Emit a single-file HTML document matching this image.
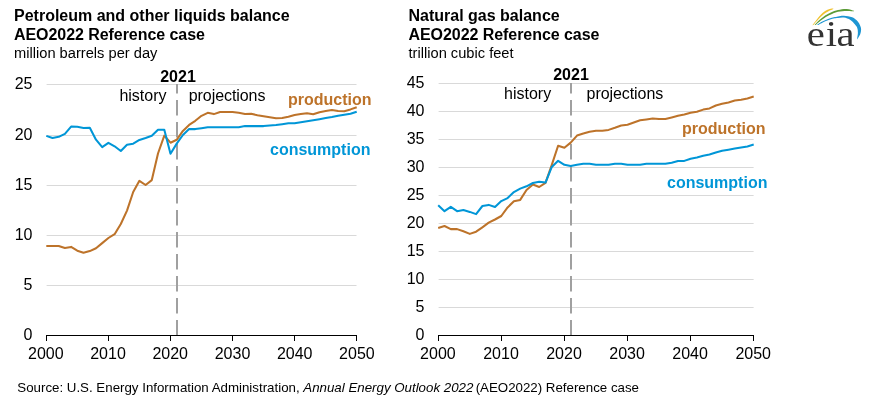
<!DOCTYPE html>
<html lang="en"><head><meta charset="utf-8"><title>EIA AEO2022 balance charts</title>
<style>html,body{margin:0;padding:0;background:#fff}body{width:870px;height:403px;overflow:hidden}svg{display:block}text{font-family:"Liberation Sans",Arial,sans-serif;fill:#000}.b{font-weight:bold}.t{font-size:16px}.ax{font-size:16px}</style></head><body>
<svg width="870" height="403" viewBox="0 0 870 403">
<rect width="870" height="403" fill="#fff"/>
<text class="b" x="14" y="21" font-size="16">Petroleum and other liquids balance</text>
<text class="b" x="14" y="40" font-size="16" textLength="190.9">AEO2022 Reference case</text>
<text x="14" y="58" font-size="14.67">million barrels per day</text>
<text class="b" x="408.5" y="21" font-size="16">Natural gas balance</text>
<text class="b" x="408.5" y="40" font-size="16" textLength="190.9">AEO2022 Reference case</text>
<text x="408.5" y="58" font-size="14.67">trillion cubic feet</text>
<line x1="46.6" x2="356.5" y1="84.5" y2="84.5" stroke="#d9d9d9" stroke-width="1"/>
<text class="ax" x="32.5" y="89.0" text-anchor="end">25</text>
<line x1="46.6" x2="356.5" y1="135.5" y2="135.5" stroke="#d9d9d9" stroke-width="1"/>
<text class="ax" x="32.5" y="140.0" text-anchor="end">20</text>
<line x1="46.6" x2="356.5" y1="185.5" y2="185.5" stroke="#d9d9d9" stroke-width="1"/>
<text class="ax" x="32.5" y="190.0" text-anchor="end">15</text>
<line x1="46.6" x2="356.5" y1="235.5" y2="235.5" stroke="#d9d9d9" stroke-width="1"/>
<text class="ax" x="32.5" y="240.0" text-anchor="end">10</text>
<line x1="46.6" x2="356.5" y1="285.5" y2="285.5" stroke="#d9d9d9" stroke-width="1"/>
<text class="ax" x="32.5" y="290.0" text-anchor="end">5</text>
<text class="ax" x="32.5" y="340" text-anchor="end">0</text>
<line x1="438.6" x2="753.6" y1="83.5" y2="83.5" stroke="#d9d9d9" stroke-width="1"/>
<text class="ax" x="424.5" y="88.0" text-anchor="end">45</text>
<line x1="438.6" x2="753.6" y1="111.5" y2="111.5" stroke="#d9d9d9" stroke-width="1"/>
<text class="ax" x="424.5" y="116.0" text-anchor="end">40</text>
<line x1="438.6" x2="753.6" y1="139.5" y2="139.5" stroke="#d9d9d9" stroke-width="1"/>
<text class="ax" x="424.5" y="144.0" text-anchor="end">35</text>
<line x1="438.6" x2="753.6" y1="167.5" y2="167.5" stroke="#d9d9d9" stroke-width="1"/>
<text class="ax" x="424.5" y="172.0" text-anchor="end">30</text>
<line x1="438.6" x2="753.6" y1="195.5" y2="195.5" stroke="#d9d9d9" stroke-width="1"/>
<text class="ax" x="424.5" y="200.0" text-anchor="end">25</text>
<line x1="438.6" x2="753.6" y1="223.5" y2="223.5" stroke="#d9d9d9" stroke-width="1"/>
<text class="ax" x="424.5" y="228.0" text-anchor="end">20</text>
<line x1="438.6" x2="753.6" y1="251.5" y2="251.5" stroke="#d9d9d9" stroke-width="1"/>
<text class="ax" x="424.5" y="256.0" text-anchor="end">15</text>
<line x1="438.6" x2="753.6" y1="279.5" y2="279.5" stroke="#d9d9d9" stroke-width="1"/>
<text class="ax" x="424.5" y="284.0" text-anchor="end">10</text>
<line x1="438.6" x2="753.6" y1="307.5" y2="307.5" stroke="#d9d9d9" stroke-width="1"/>
<text class="ax" x="424.5" y="312.0" text-anchor="end">5</text>
<text class="ax" x="424.5" y="340" text-anchor="end">0</text>
<line x1="177" x2="177" y1="335.5" y2="84" stroke="#a0a0a0" stroke-width="2" stroke-dasharray="15.4 6.6"/>
<line x1="571" x2="571" y1="335.5" y2="83" stroke="#a0a0a0" stroke-width="2" stroke-dasharray="15.4 6.6"/>
<polyline fill="none" stroke="#bd732a" stroke-width="2.05" stroke-linejoin="round" stroke-linecap="butt" points="46.3,245.9 52.5,245.9 58.7,245.9 64.9,247.9 71.1,246.9 77.3,250.7 83.5,252.7 89.8,251.1 96.0,248.3 102.2,243.1 108.4,238.0 114.6,234.2 120.8,224.0 127.0,210.6 133.2,192.0 139.4,180.8 145.6,185.0 151.8,180.1 158.0,153.5 164.3,135.6 170.5,142.7 176.7,139.8 182.9,130.9 189.1,124.9 195.3,120.8 201.5,115.8 207.7,112.8 213.9,114.1 220.1,112.0 226.3,111.9 232.5,112.0 238.7,112.8 245.0,113.9 251.2,113.8 257.4,115.2 263.6,116.2 269.8,117.2 276.0,118.2 282.2,118.0 288.4,116.7 294.6,115.1 300.8,114.1 307.0,113.2 313.2,114.2 319.5,112.2 325.7,111.0 331.9,110.1 338.1,111.0 344.3,111.2 350.5,109.4 356.7,107.2"/>
<polyline fill="none" stroke="#0096d7" stroke-width="2.05" stroke-linejoin="round" stroke-linecap="butt" points="46.3,135.9 52.5,138.0 58.7,136.8 64.9,133.8 71.1,126.6 77.3,126.8 83.5,128.0 89.8,127.8 96.0,139.7 102.2,147.1 108.4,142.8 114.6,146.3 120.8,151.0 127.0,144.7 133.2,143.7 139.4,139.9 145.6,138.0 151.8,135.8 158.0,129.8 164.3,129.8 170.5,153.7 176.7,143.6 182.9,135.0 189.1,129.1 195.3,129.1 201.5,128.2 207.7,127.2 213.9,127.2 220.1,127.2 226.3,127.2 232.5,127.2 238.7,127.2 245.0,126.1 251.2,126.1 257.4,126.1 263.6,126.1 269.8,125.4 276.0,125.1 282.2,124.2 288.4,123.2 294.6,123.2 300.8,122.2 307.0,121.2 313.2,120.2 319.5,119.2 325.7,118.1 331.9,117.1 338.1,115.8 344.3,114.8 350.5,113.8 356.7,111.8"/>
<polyline fill="none" stroke="#bd732a" stroke-width="2.05" stroke-linejoin="round" stroke-linecap="butt" points="438.2,227.9 444.5,226.0 450.8,229.1 457.1,229.1 463.4,231.3 469.8,233.9 476.1,231.7 482.4,227.3 488.7,222.7 495.0,219.5 501.3,216.0 507.6,207.4 513.9,201.3 520.2,199.9 526.5,190.0 532.9,184.5 539.2,187.0 545.5,182.9 551.8,164.8 558.1,145.7 564.4,147.8 570.7,142.6 577.0,135.6 583.3,133.6 589.6,131.8 596.0,130.8 602.3,130.8 608.6,129.9 614.9,127.8 621.2,125.5 627.5,124.7 633.8,122.5 640.1,120.3 646.4,119.4 652.7,118.5 659.0,118.9 665.4,118.9 671.7,117.4 678.0,115.8 684.3,114.5 690.6,112.7 696.9,111.8 703.2,109.6 709.5,108.4 715.8,105.5 722.1,103.8 728.5,102.4 734.8,100.6 741.1,99.7 747.4,98.4 753.7,96.6"/>
<polyline fill="none" stroke="#0096d7" stroke-width="2.05" stroke-linejoin="round" stroke-linecap="butt" points="438.2,205.3 444.5,211.2 450.8,206.8 457.1,211.2 463.4,210.0 469.8,211.9 476.1,214.1 482.4,206.0 488.7,204.9 495.0,207.0 501.3,201.1 507.6,198.1 513.9,192.1 520.2,188.6 526.5,186.3 532.9,183.0 539.2,181.7 545.5,182.6 551.8,166.9 558.1,160.8 564.4,164.8 570.7,166.0 577.0,164.8 583.3,163.8 589.6,163.8 596.0,164.8 602.3,164.8 608.6,164.8 614.9,163.8 621.2,163.7 627.5,164.7 633.8,164.7 640.1,164.7 646.4,163.8 652.7,163.8 659.0,163.8 665.4,163.8 671.7,162.7 678.0,160.9 684.3,160.9 690.6,158.7 696.9,157.5 703.2,155.8 709.5,154.6 715.8,152.6 722.1,150.8 728.5,149.7 734.8,148.6 741.1,147.5 747.4,146.4 753.7,144.6"/>
<path d="M46 335.5H357M46.5 335v6M108.5 335v6M170.5 335v6M232.5 335v6M294.5 335v6M356.5 335v6" stroke="#000" stroke-width="1" fill="none"/>
<path d="M438 335.5H754M438.5 335v6M501.5 335v6M564.5 335v6M627.5 335v6M690.5 335v6M753.5 335v6" stroke="#000" stroke-width="1" fill="none"/>
<text class="ax" x="45.8" y="359" text-anchor="middle">2000</text>
<text class="ax" x="437.9" y="359" text-anchor="middle">2000</text>
<text class="ax" x="108.0" y="359" text-anchor="middle">2010</text>
<text class="ax" x="501.0" y="359" text-anchor="middle">2010</text>
<text class="ax" x="170.2" y="359" text-anchor="middle">2020</text>
<text class="ax" x="564.0" y="359" text-anchor="middle">2020</text>
<text class="ax" x="232.5" y="359" text-anchor="middle">2030</text>
<text class="ax" x="627.1" y="359" text-anchor="middle">2030</text>
<text class="ax" x="294.7" y="359" text-anchor="middle">2040</text>
<text class="ax" x="690.1" y="359" text-anchor="middle">2040</text>
<text class="ax" x="356.9" y="359" text-anchor="middle">2050</text>
<text class="ax" x="753.2" y="359" text-anchor="middle">2050</text>
<text class="b" x="178.0" y="82" font-size="16" text-anchor="middle">2021</text>
<text x="119.4" y="101" font-size="16">history</text>
<text x="188.8" y="101" font-size="16" textLength="76.6">projections</text>
<text class="b" x="288" y="105" font-size="16" style="fill:#bd732a">production</text>
<text class="b" x="270" y="155" font-size="16" style="fill:#0096d7">consumption</text>
<text class="b" x="571" y="80" font-size="16" text-anchor="middle">2021</text>
<text x="504" y="99" font-size="16">history</text>
<text x="586.6" y="99" font-size="16" textLength="76.6">projections</text>
<text class="b" x="682" y="133.5" font-size="16" style="fill:#bd732a">production</text>
<text class="b" x="667" y="188" font-size="16" style="fill:#0096d7">consumption</text>
<text x="17.3" y="391.7" font-size="13.3">Source: U.S. Energy Information Administration, <tspan font-style="italic">Annual Energy Outlook 2022</tspan><tspan dx="-1.4"> (AEO2022) Reference case</tspan></text>
<g id="logo">
<path d="M812.40,25.20C813.10,24.30 815.25,21.52 816.60,19.80C817.95,18.08 819.08,16.35 820.50,14.90C821.92,13.45 823.57,12.07 825.10,11.10C826.63,10.13 828.33,9.52 829.70,9.10C831.07,8.68 832.70,8.68 833.30,8.60L833.30,9.00C832.50,9.37 830.05,10.37 828.50,11.20C826.95,12.03 825.52,12.82 824.00,14.00C822.48,15.18 821.17,16.47 819.40,18.30C817.63,20.13 814.40,23.88 813.40,25.00Z" fill="#f0c22e"/>
<path d="M814.60,25.00C815.40,24.18 817.65,21.67 819.40,20.10C821.15,18.53 823.20,16.88 825.10,15.60C827.00,14.32 828.65,13.35 830.80,12.40C832.95,11.45 835.35,10.48 838.00,9.90C840.65,9.32 844.03,8.77 846.70,8.90C849.37,9.03 852.78,10.40 854.00,10.70L854.00,11.20C852.78,11.15 849.37,10.80 846.70,10.90C844.03,11.00 840.45,11.30 838.00,11.80C835.55,12.30 833.95,13.07 832.00,13.90C830.05,14.73 828.22,15.65 826.30,16.80C824.38,17.95 822.28,19.43 820.50,20.80C818.72,22.17 816.42,24.30 815.60,25.00Z" fill="#5b9b37"/>
<path d="M817.00,24.90C817.88,24.33 820.47,22.48 822.30,21.50C824.13,20.52 826.10,19.70 828.00,19.00C829.90,18.30 832.03,17.73 833.70,17.30C835.37,16.87 836.30,16.67 838.00,16.40C839.70,16.13 841.53,15.57 843.90,15.70C846.27,15.83 849.88,16.25 852.20,17.20C854.52,18.15 856.45,19.93 857.80,21.40C859.15,22.87 859.75,24.65 860.30,26.00C860.85,27.35 861.13,28.08 861.10,29.50C861.07,30.92 860.75,32.87 860.10,34.50C859.45,36.13 857.68,38.50 857.20,39.30L857.00,39.20C857.15,38.13 857.87,34.70 857.90,32.80C857.93,30.90 857.72,29.23 857.20,27.80C856.68,26.37 855.93,25.50 854.80,24.20C853.67,22.90 852.22,21.10 850.40,20.00C848.58,18.90 845.97,17.95 843.90,17.60C841.83,17.25 839.70,17.75 838.00,17.90C836.30,18.05 835.37,18.12 833.70,18.50C832.03,18.88 829.82,19.53 828.00,20.20C826.18,20.87 824.42,21.72 822.80,22.50C821.18,23.28 819.05,24.50 818.30,24.90Z" fill="#1d96d3"/>
<text font-size="36" transform="scale(1.13,1)" x="713.89 730.80 740.27" y="46" style="font-family:'Liberation Serif','Times New Roman',serif;fill:#333">eia</text>
</g>
</svg></body></html>
